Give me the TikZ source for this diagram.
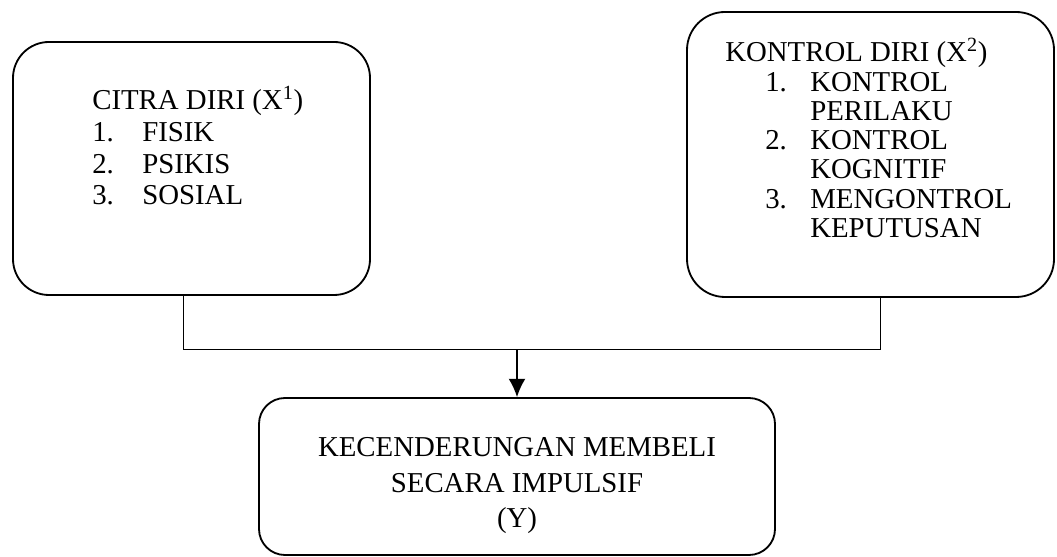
\documentclass[tikz,border=0pt]{standalone}
\usepackage{fontspec}
\setmainfont{Liberation Serif}
\usetikzlibrary{arrows.meta}

\tikzset{
  box/.style={draw, line width=1.3pt, inner sep=0pt},
  txt/.style={inner sep=0pt, anchor=base west},
}

\begin{document}
\begin{tikzpicture}

\useasboundingbox (0,0) rectangle (26.425,13.925);

\node [box, rounded corners=0.9cm, minimum width=8.925cm, minimum height=6.325cm] (citra) at (4.7875,9.7125) {};
\node [box, rounded corners=0.95cm, minimum width=9.175cm, minimum height=7.125cm] (kontrol) at (21.7625,10.0625) {};
\node [box, rounded corners=0.65cm, minimum width=12.9cm, minimum height=3.925cm] (impulsif) at (12.925,2.0125) {};

\node [txt] (citratext) at (2.3,11.175) {\fontsize{20.5}{22.5}\selectfont
  \begin{tabular}[t]{@{}p{1.25cm}@{}l@{}}
  \multicolumn{2}{@{}l@{}}{CITRA DIRI (X\textsuperscript{1})}\\
  1. & FISIK\\
  2. & PSIKIS\\
  3. & SOSIAL
  \end{tabular}};

\node [txt] (kontroltext) at (18.125,12.375) {\fontsize{20.5}{20.8}\selectfont
  \begin{tabular}[t]{@{}p{1cm}@{}p{1.125cm}@{}l@{}}
  \multicolumn{3}{@{}l@{}}{KONTROL DIRI (X\textsuperscript{2})}\\
  & 1. & KONTROL\\
  & & PERILAKU\\
  & 2. & KONTROL\\
  & & KOGNITIF\\
  & 3. & MENGONTROL\\
  & & KEPUTUSAN
  \end{tabular}};

\node [txt, anchor=base] (impulsiftext) at (12.925,2.5) {\fontsize{20.5}{25}\selectfont
  \begin{tabular}[t]{@{}c@{}}
  KECENDERUNGAN MEMBELI\\
  SECARA IMPULSIF\\
  (Y)
  \end{tabular}};

\coordinate (join) at (12.925,5.1875);
\draw [line width=0.7pt] ([xshift=-0.19cm]citra.south) |- (join) -| ([xshift=0.26cm]kontrol.south);
\draw [line width=1.1pt, -{Latex[length=13pt,width=12pt]}] (join) -- (impulsif.north);

\end{tikzpicture}
\end{document}
